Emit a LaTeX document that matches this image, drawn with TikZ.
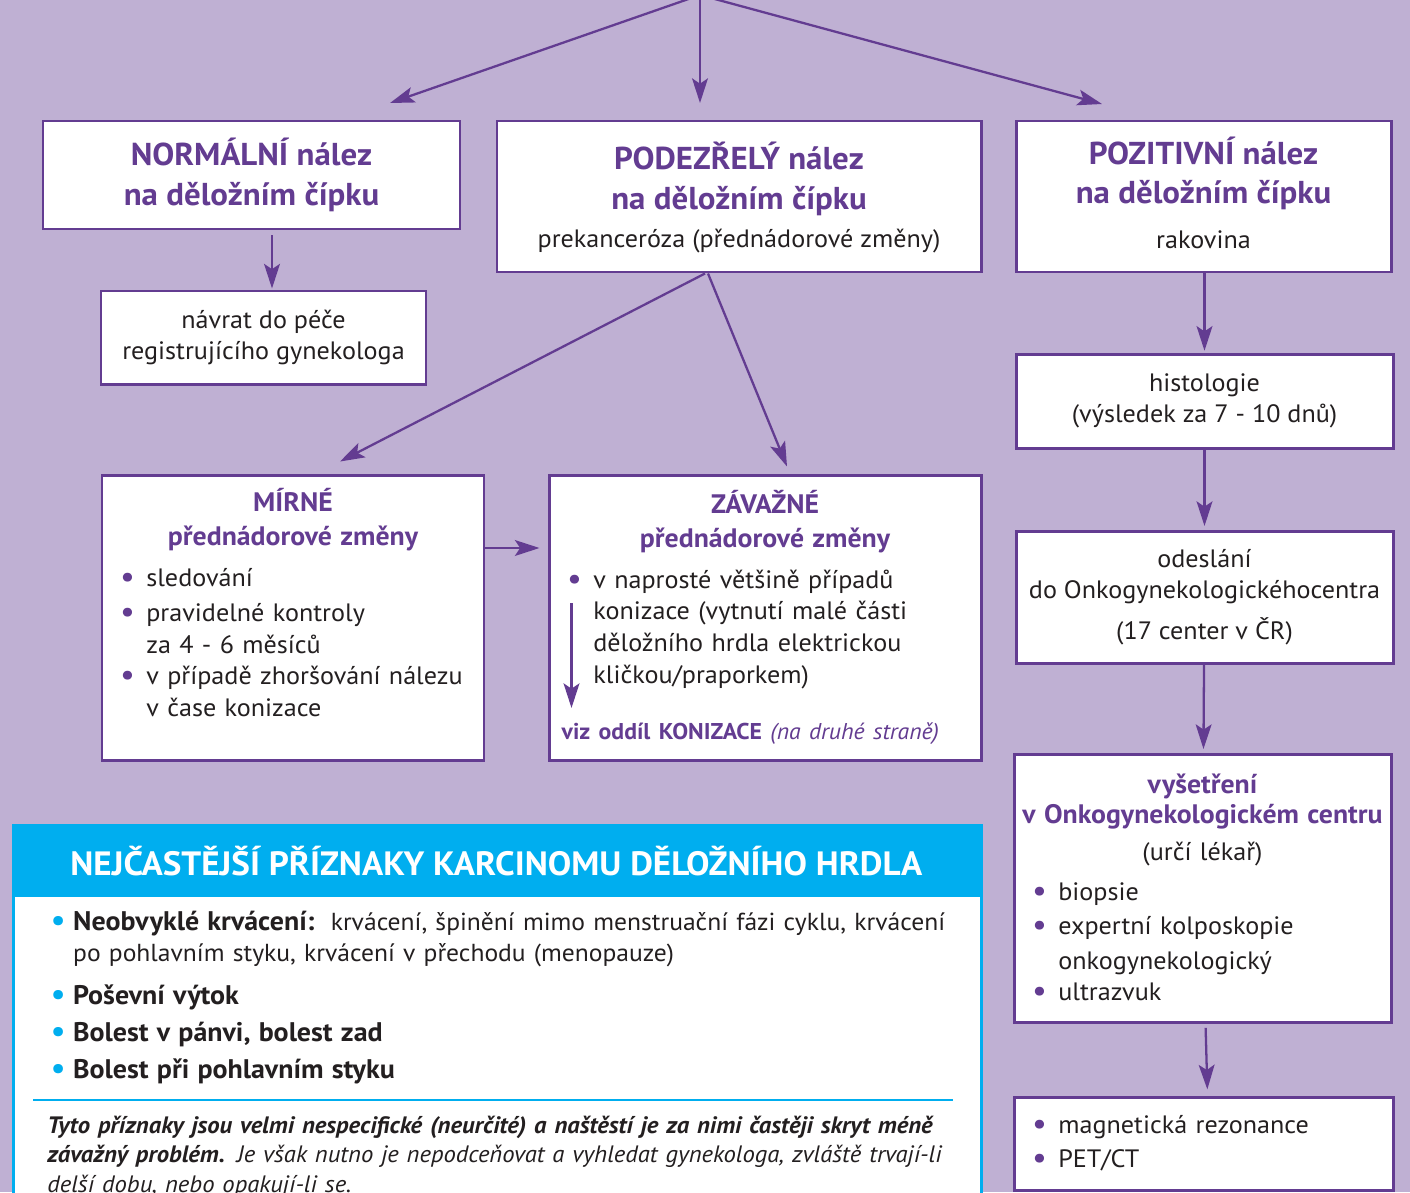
\documentclass[tikz,border=0pt]{standalone}
\usepackage{fontspec}
\setmainfont[FakeStretch=1.04]{PT Sans}
\usetikzlibrary{positioning, arrows.meta}
\definecolor{pozadi}{RGB}{191,176,211}
\definecolor{fialova}{RGB}{99,60,145}
\definecolor{modra}{RGB}{0,174,239}
\definecolor{cerna}{RGB}{35,31,32}

\newcommand{\nadpis}[1]{{\fontsize{18}{20}\selectfont\bfseries\color{fialova}#1}}
\newcommand{\nadpisM}[1]{{\fontsize{15.2}{18}\selectfont\bfseries\color{fialova}#1}}
\newcommand{\stred}[1]{\makebox[\linewidth]{#1}}
\newcommand{\tecka}{\makebox[15pt][l]{\raisebox{-0.6pt}{\textcolor{fialova}{\fontsize{18}{18}\selectfont\textbullet}}}}
\newcommand{\odsaz}{\hspace*{15pt}}
\newcommand{\modratecka}{\makebox[13pt][l]{\raisebox{-0.6pt}{\textcolor{modra}{\fontsize{19}{19}\selectfont\textbullet}}}}
\newcommand{\tucne}[1]{{\fontsize{15.3}{18}\selectfont\bfseries #1}}

\begin{document}
\begin{tikzpicture}[font=\fontsize{14.3}{18}\selectfont]

        % Styly
        \tikzset{
            ramecek/.style={draw=fialova, line width=1.7pt, fill=white, text=cerna, inner sep=0pt},
            stredni/.style={ramecek, align=center},
            seznam/.style={ramecek, align=left, inner xsep=0.36cm},
            sipka/.style={-{Stealth[length=14pt, width=9pt, inset=3pt]}, line width=1.3pt, draw=fialova},
            modrybox/.style={draw=modra, line width=1.7pt, fill=white, inner sep=0pt},
            hlavicka/.style={fill=modra, text=white, font=\fontsize{19.2}{20}\selectfont\bfseries, inner sep=0pt}
        }

        % Pozadí
        \useasboundingbox (0,0) rectangle (28.2,-23.84);
        \fill[pozadi] (0,0) rectangle (28.2,-23.84);
        \clip (0,0) rectangle (28.2,-23.84);

        % --- HORNÍ ŘADA : tři nálezy ---
        \node[stredni, minimum width=8.34cm, minimum height=2.16cm] (normal) at (5.03,-3.50)
            {\nadpis{NORMÁLNÍ nález}\\[4.8pt]\nadpis{na děložním čípku}};
        \node[stredni, minimum width=9.68cm, minimum height=3.02cm] (podezrely) at (14.78,-3.93)
            {\nadpis{PODEZŘELÝ nález}\\[4.8pt]\nadpis{na děložním čípku}\\[3.6pt]prekanceróza (přednádorové změny)\\[-16pt]\mbox{}};
        \node[stredni, minimum width=7.50cm, minimum height=3.02cm] (pozitivni) at (24.07,-3.93)
            {\nadpis{POZITIVNÍ nález}\\[4.2pt]\nadpis{na děložním čípku}\\[7.6pt]rakovina\\[-14pt]\mbox{}};

        % --- LEVÁ VĚTEV ---
        \node[stredni, minimum width=6.50cm, minimum height=1.86cm] (navrat) at (5.27,-6.75)
            {návrat do péče\\registrujícího gynekologa};

        % --- STŘEDNÍ VĚTEV : přednádorové změny ---
        \node[seznam, text width=6.92cm, minimum height=5.70cm] (mirne) at (5.86,-12.35) {
            \stred{\nadpisM{MÍRNÉ}}\\[1.3pt]
            \stred{\nadpisM{přednádorové změny}}\\[5.3pt]
            \tecka sledování\\[1.9pt]
            \tecka pravidelné kontroly\\
            \odsaz za 4 - 6 měsíců\\
            \tecka v případě zhoršování nálezu\\
            \odsaz v čase konizace\\[-1pt]
            \mbox{}};
        \node[seznam, text width=7.92cm, minimum height=5.70cm] (zavazne) at (15.30,-12.35) {
            \stred{\nadpisM{ZÁVAŽNÉ}}\\[1.3pt]
            \stred{\nadpisM{přednádorové změny}}\\[5.3pt]
            \tecka v naprosté většině případů\\
            \odsaz konizace (vytnutí malé části\\
            \odsaz děložního hrdla elektrickou\\
            \odsaz kličkou/praporkem)\\[14.4pt]
            \hspace*{-3pt}{\fontsize{13}{18}\selectfont\color{fialova}\textbf{viz oddíl KONIZACE} \textit{(na druhé straně)}}};

        % --- PRAVÁ VĚTEV : rakovina ---
        \node[stredni, minimum width=7.54cm, minimum height=1.88cm] (histologie) at (24.09,-8.02)
            {histologie\\(výsledek za 7 - 10 dnů)};
        \node[stredni, minimum width=7.54cm, minimum height=2.64cm] (odeslani) at (24.09,-11.94)
            {odeslání\\do Onkogynekologickéhocentra\\[5.3pt](17 center v ČR)};
        \node[seznam, text width=6.82cm, minimum height=5.36cm] (vysetreni) at (24.05,-17.76) {
            \stred{\nadpisM{vyšetření}}\\[-1pt]
            \stred{\nadpisM{v Onkogynekologickém centru}}\\[3pt]
            \stred{(určí lékař)}\\[4.8pt]
            \tecka biopsie\\[1.3pt]
            \tecka expertní kolposkopie\\[1.9pt]
            \odsaz onkogynekologický\\
            \tecka ultrazvuk};
        \node[seznam, text width=6.86cm, minimum height=1.86cm] (dalsi) at (24.07,-22.87) {
            \tecka magnetická rezonance\\[1.3pt]
            \tecka PET/CT};

        % --- MODRÝ RÁMEČEK : příznaky ---
        \node[modrybox, minimum width=19.36cm, minimum height=8cm, anchor=north west] (priznakybox) at (0.24,-16.48) {};
        \node[hlavicka, minimum width=19.36cm, minimum height=1.46cm, anchor=north west] (hlavicka) at (priznakybox.north west)
            {NEJČASTĚJŠÍ PŘÍZNAKY KARCINOMU DĚLOŽNÍHO HRDLA};
        \node[anchor=base west, text width=18.6cm, align=left, text=cerna, font=\fontsize{14}{18}\selectfont, inner sep=0pt] (priznaky) at (1.0,-18.6) {
            \modratecka\tucne{Neobvyklé krvácení:}\ \ krvácení, špinění mimo menstruační fázi cyklu, krvácení\\
            \hspace*{13pt}po pohlavním styku, krvácení v přechodu (menopauze)\\[6.5pt]
            \modratecka\tucne{Poševní výtok}\\[3pt]
            \modratecka\tucne{Bolest v pánvi, bolest zad}\\[3pt]
            \modratecka\tucne{Bolest při pohlavním styku}};
        \draw[modra, line width=1.4pt] (0.66,-22.0) -- (19.06,-22.0);
        \node[anchor=base west, text width=18.8cm, align=left, text=cerna, font=\fontsize{13.5}{17}\selectfont\itshape, inner sep=0pt] (poznamka) at (0.94,-22.66) {
            {\bfseries Tyto příznaky jsou velmi nespecifické (neurčité) a naštěstí je za nimi častěji skryt méně\\
            závažný problém.} Je však nutno je nepodceňovat a vyhledat gynekologa, zvláště trvají-li\\
            delší dobu, nebo opakují-li se.};

        % --- ŠIPKY ---
        \coordinate (vrchol) at (14.0,0.1);
        \coordinate (cilL) at (7.8,-2.06);
        \coordinate (cilS) at (14.0,-2.06);
        \coordinate (cilP) at (22.04,-2.08);
        \draw[sipka] (vrchol) -- (cilL);
        \draw[sipka] (vrchol) -- (cilS);
        \draw[sipka] (vrchol) -- (cilP);

        \draw[sipka] ([xshift=0.41cm, yshift=-0.1cm]normal.south) -- ([xshift=0.17cm, yshift=0.02cm]navrat.north);
        \draw[sipka] ([xshift=-0.68cm]podezrely.south) -- ([xshift=0.94cm, yshift=0.24cm]mirne.north);
        \draw[sipka] ([xshift=-0.62cm]podezrely.south) -- ([xshift=0.44cm, yshift=0.14cm]zavazne.north);
        \draw[sipka] ([yshift=1.39cm]mirne.east) -- ([xshift=-0.16cm, yshift=1.39cm]zavazne.west);

        \coordinate (k1) at ([xshift=0.48cm, yshift=0.29cm]zavazne.west);
        \coordinate (k2) at ([xshift=0.48cm, yshift=-1.81cm]zavazne.west);
        \draw[sipka] (k1) -- (k2);

        \draw[sipka, shorten >=1pt] (pozitivni.south -| histologie.north) -- (histologie);
        \draw[sipka, shorten >=2pt] (histologie) -- (odeslani);
        \draw[sipka, shorten >=2pt] (odeslani) -- (vysetreni);
        \draw[sipka, shorten <=2.5pt, shorten >=3.5pt] ([xshift=0.06cm]vysetreni.south) -- ([xshift=0.08cm]dalsi.north);

    \end{tikzpicture}
\end{document}
